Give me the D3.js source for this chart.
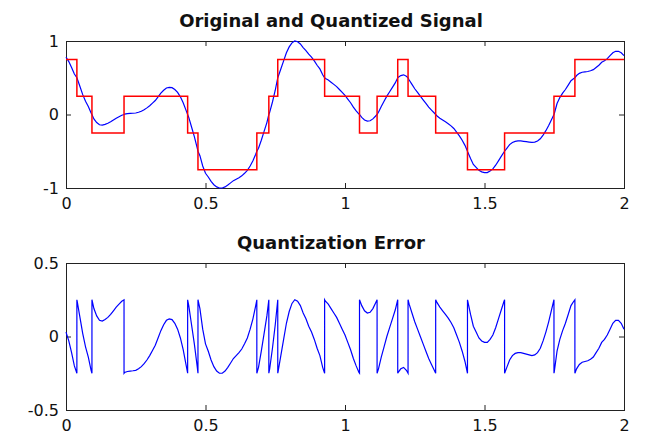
<!DOCTYPE html>
<html>
    <head>
        <script src="https://d3js.org/d3.v7.min.js"></script>
        <style>
            body { margin: 0; background: #fff; }
            text { font-family: "DejaVu Sans", Verdana, sans-serif; }
        </style>
    </head>
    <body>
        <div id="Graph"></div>
        <script>
            var dt = 0.01
            var signal = [
                0.78, 0.72, 0.64, 0.55, 0.49, 0.38, 0.27, 0.18, 0.11, 0.02,
                -0.06, -0.11, -0.14, -0.145, -0.135, -0.12, -0.10, -0.075, -0.05, -0.03,
                -0.01, 0.005, 0.012, 0.015, 0.017, 0.02, 0.03, 0.045, 0.065, 0.09,
                0.12, 0.155, 0.19, 0.24, 0.29, 0.33, 0.36, 0.37, 0.365, 0.34,
                0.30, 0.24, 0.16, 0.06, -0.04, -0.17, -0.30, -0.45, -0.56, -0.70,
                -0.80, -0.85, -0.91, -0.955, -0.985, -1.0, -1.0, -0.985, -0.96, -0.93,
                -0.90, -0.88, -0.86, -0.835, -0.80, -0.76, -0.70, -0.63, -0.54, -0.46,
                -0.35, -0.23, -0.11, 0.03, 0.17, 0.33, 0.51, 0.62, 0.73, 0.84,
                0.92, 0.975, 1.0, 0.99, 0.96, 0.91, 0.87, 0.82, 0.78, 0.73,
                0.67, 0.62, 0.54, 0.49, 0.47, 0.44, 0.41, 0.38, 0.34, 0.30,
                0.26, 0.21, 0.16, 0.10, 0.05, 0.005, -0.04, -0.075, -0.09, -0.085,
                -0.06, -0.02, 0.03, 0.11, 0.18, 0.25, 0.31, 0.37, 0.43, 0.505,
                0.53, 0.54, 0.52, 0.47, 0.41, 0.35, 0.30, 0.25, 0.20, 0.15,
                0.10, 0.06, 0.02, -0.02, -0.05, -0.075, -0.10, -0.125, -0.155, -0.19,
                -0.24, -0.29, -0.35, -0.42, -0.51, -0.60, -0.68, -0.72, -0.76, -0.78,
                -0.79, -0.79, -0.77, -0.74, -0.69, -0.63, -0.57, -0.51, -0.46, -0.41,
                -0.38, -0.365, -0.36, -0.36, -0.365, -0.37, -0.375, -0.38, -0.375, -0.36,
                -0.33, -0.28, -0.22, -0.15, -0.07, 0.01, 0.15, 0.23, 0.29, 0.34,
                0.40, 0.46, 0.49, 0.53, 0.56, 0.575, 0.58, 0.585, 0.595, 0.61,
                0.64, 0.67, 0.71, 0.73, 0.76, 0.80, 0.84, 0.86, 0.86, 0.84,
                0.80
            ]

            // times where the signal crosses a quantizer threshold (edges of the red steps)
            var crossTimes = [0.039, 0.093, 0.208, 0.436, 0.473, 0.684, 0.727, 0.759, 0.927,
                              1.052, 1.115, 1.189, 1.226, 1.325, 1.439, 1.572, 1.749, 1.824]
            var crossValues = [0.5, 0, 0, 0, -0.5, -0.5, 0, 0.5, 0.5,
                               0, 0, 0.5, 0.5, 0, -0.5, -0.5, 0, 0.5]

            // quantizer output levels
            var levels = [-0.75, -0.25, 0.25, 0.75]

            var xTicks = [0, 0.5, 1, 1.5, 2]
            var xTickLabels = ["0", "0.5", "1", "1.5", "2"]
            var topTicks = [-1, 0, 1]
            var topTickLabels = ["-1", "0", "1"]
            var botTicks = [-0.5, 0, 0.5]
            var botTickLabels = ["-0.5", "0", "0.5"]

            var titles = ["Original and Quantized Signal", "Quantization Error"]

            var quantize = d3.scaleQuantize().domain([-1, 1]).range(levels)

            var data = signal.map(function(v, i) {
                return {t: i * dt, v: v, q: quantize(v), k: 1}
            })
            // at each crossing the step jumps: one record with the old level, one with the new
            crossTimes.forEach(function(t, i) {
                var prev = Math.floor(t / dt)
                var b = crossValues[i]
                data.push({t: t, v: b, q: quantize(signal[prev]), k: 0})
                data.push({t: t, v: b, q: quantize(signal[prev + 1]), k: 0.5})
            })
            data.sort(function(a, b) { return (a.t - b.t) || (a.k - b.k) })
            data.forEach(function(d) { d.e = d.v - d.q })

            var W = 645, H = 437
            var svg = d3.select("#Graph").append("svg")
                .attr("width", W)
                .attr("height", H)

            var x = d3.scaleLinear().domain([0, 2]).range([66, 624])
            var yTop = d3.scaleLinear().domain([-1, 1]).range([188, 41])
            var yBot = d3.scaleLinear().domain([-0.5, 0.5]).range([410, 263])

            function drawAxes(y, ticks, labels, title) {
                var g = svg.append("g")
                var top = y.range()[1], bottom = y.range()[0]

                // bottom axis with labels, ticks pointing in
                g.append("g")
                    .attr("transform", "translate(0," + bottom + ")")
                    .call(d3.axisBottom(x).tickValues(xTicks)
                        .tickFormat(function(d, i) { return xTickLabels[i] })
                        .tickSizeInner(-5).tickSizeOuter(0).tickPadding(10))
                // top ticks
                g.append("g")
                    .attr("transform", "translate(0," + top + ")")
                    .call(d3.axisTop(x).tickValues(xTicks).tickFormat("")
                        .tickSizeInner(-5).tickSizeOuter(0))
                // left axis with labels
                g.append("g")
                    .attr("transform", "translate(" + x.range()[0] + ",0)")
                    .call(d3.axisLeft(y).tickValues(ticks)
                        .tickFormat(function(d, i) { return labels[i] })
                        .tickSizeInner(-5).tickSizeOuter(0).tickPadding(7))
                // right ticks
                g.append("g")
                    .attr("transform", "translate(" + x.range()[1] + ",0)")
                    .call(d3.axisRight(y).tickValues(ticks).tickFormat("")
                        .tickSizeInner(-5).tickSizeOuter(0))

                g.selectAll(".domain").remove()
                g.selectAll(".tick line").attr("stroke", "#222")
                g.selectAll(".tick text")
                    .attr("font-size", "16px")
                    .attr("fill", "#111")

                g.append("rect")
                    .attr("x", x.range()[0] + 0.5)
                    .attr("y", top + 0.5)
                    .attr("width", x.range()[1] - x.range()[0])
                    .attr("height", bottom - top)
                    .attr("fill", "none")
                    .attr("stroke", "#222")
                    .attr("stroke-width", 1)

                g.append("text")
                    .attr("x", 331)
                    .attr("y", top - 14)
                    .attr("text-anchor", "middle")
                    .attr("font-size", "18px")
                    .attr("font-weight", "bold")
                    .attr("fill", "#111")
                    .text(title)
            }

            drawAxes(yTop, topTicks, topTickLabels, titles[0])
            drawAxes(yBot, botTicks, botTickLabels, titles[1])

            // original signal
            svg.append("path")
                .datum(data)
                .attr("fill", "none")
                .attr("stroke", "#0000ff")
                .attr("stroke-width", 1.2)
                .attr("d", d3.line()
                    .x(function(d) { return x(d.t) })
                    .y(function(d) { return yTop(d.v) }))

            // quantized signal drawn as stairs
            svg.append("path")
                .datum(data)
                .attr("fill", "none")
                .attr("stroke", "#ff0000")
                .attr("stroke-width", 1.5)
                .attr("d", d3.line()
                    .curve(d3.curveStepAfter)
                    .x(function(d) { return x(d.t) })
                    .y(function(d) { return yTop(d.q) }))

            // quantization error
            svg.append("path")
                .datum(data)
                .attr("fill", "none")
                .attr("stroke", "#0000ff")
                .attr("stroke-width", 1.2)
                .attr("d", d3.line()
                    .x(function(d) { return x(d.t) })
                    .y(function(d) { return yBot(d.e) }))
        </script>
    </body>
</html>
